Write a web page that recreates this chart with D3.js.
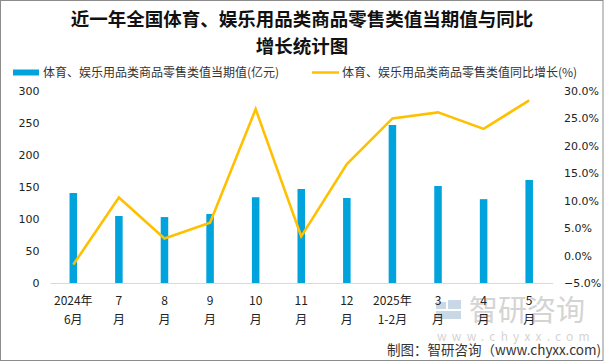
<!DOCTYPE html>
<html>
<head>
<meta charset="utf-8">
<script src="https://cdn.jsdelivr.net/npm/d3@7"></script>
<style>
  html, body { margin: 0; padding: 0; background: #fff; }
  svg { display: block; font-family: "Noto Sans CJK SC", "Noto Sans", sans-serif; }
</style>
</head>
<body>
<svg id="chart" width="605" height="363"></svg>
<script>
const categories = ["2024年6月", "7月", "8月", "9月", "10月", "11月", "12月", "2025年1-2月", "3月", "4月", "5月"];
const labelTop = ["2024年", "7", "8", "9", "10", "11", "12", "2025年", "3", "4", "5"];
const labelBottom = ["6月", "月", "月", "月", "月", "月", "月", "1-2月", "月", "月", "月"];
const values = [140.6, 104.7, 103.0, 107.8, 134.0, 146.9, 132.8, 246.9, 151.6, 131.0, 161.0];
const growth = [-1.65, 10.6, 3.1, 6.0, 26.7, 3.5, 16.7, 25.0, 26.1, 23.1, 28.3];
const leftTicks = [0, 50, 100, 150, 200, 250, 300];
const rightTicks = [-5, 0, 5, 10, 15, 20, 25, 30];

const svg = d3.select("#chart");
const plotLeft = 50.5, plotRight = 552, plotTop = 91, plotBottom = 283;

// frame
svg.append("rect")
    .attr("x", 0.5).attr("y", 0.5)
    .attr("width", 602.5).attr("height", 360)
    .attr("fill", "#fff")
    .attr("stroke", "#8c8c8c");

// title
const title = svg.append("text")
    .attr("text-anchor", "middle")
    .attr("font-weight", "bold")
    .attr("font-size", "18.5px")
    .attr("fill", "#111");
title.append("tspan").attr("x", 302).attr("y", 26).text("近一年全国体育、娱乐用品类商品零售类值当期值与同比");
title.append("tspan").attr("x", 302).attr("y", 53).text("增长统计图");

// legend
svg.append("rect").attr("x", 13).attr("y", 69.5).attr("width", 26).attr("height", 6).attr("fill", "#00a3dc");
svg.append("text").attr("x", 43).attr("y", 77).attr("font-size", "12px").attr("fill", "#333")
    .text("体育、娱乐用品类商品零售类值当期值(亿元)");
svg.append("line").attr("x1", 312).attr("x2", 339).attr("y1", 72.5).attr("y2", 72.5)
    .attr("stroke", "#ffc000").attr("stroke-width", 2.5);
svg.append("text").attr("x", 342).attr("y", 77).attr("font-size", "12px").attr("fill", "#333")
    .text("体育、娱乐用品类商品零售类值同比增长(%)");

// scales
const x = d3.scaleBand().domain(categories).range([plotLeft, plotRight]).padding(0);
const yL = d3.scaleLinear().domain([0, 300]).range([plotBottom, plotTop]);
const yR = d3.scaleLinear().domain([-5, 30]).range([plotBottom, plotTop]);
const barW = x.bandwidth() * 0.165;

// axes
const axL = svg.append("g")
    .attr("transform", `translate(${plotLeft - 11},0)`)
    .call(d3.axisLeft(yL).tickValues(leftTicks).tickSize(0).tickPadding(0));
const axR = svg.append("g")
    .attr("transform", `translate(${plotRight + 12},0)`)
    .call(d3.axisRight(yR).tickValues(rightTicks).tickSize(0).tickPadding(0)
        .tickFormat(d => d3.format(".1f")(d) + "%"));
[axL, axR].forEach(a => {
    a.select(".domain").remove();
    a.selectAll("text").attr("font-size", "11px").attr("fill", "#222")
        .attr("font-family", "\"DejaVu Sans\", sans-serif");
});

// watermark
const wm = svg.append("g").attr("fill", "#d4d4d4");
wm.append("rect").attr("x", 436).attr("y", 302).attr("width", 10).attr("height", 7).attr("fill", "#c9d8e6");
wm.append("rect").attr("x", 448).attr("y", 300).attr("width", 13).attr("height", 9).attr("fill", "#c9d8e6");
wm.append("rect").attr("x", 436).attr("y", 311).attr("width", 25).attr("height", 8).attr("fill", "#c9d8e6");
wm.append("text").attr("x", 469).attr("y", 321).attr("font-size", "29px").text("智研咨询");
wm.append("text").attr("x", 437).attr("y", 341).attr("font-size", "12px")
    .attr("letter-spacing", "5.2px").text("www.chyxx.com");

// baseline
svg.append("line").attr("x1", plotLeft).attr("x2", plotRight + 1)
    .attr("y1", plotBottom + 0.5).attr("y2", plotBottom + 0.5)
    .attr("stroke", "#d9d9d9");

// bars
svg.append("g").selectAll("rect")
    .data(values)
    .join("rect")
    .attr("x", (d, i) => x(categories[i]) + x.bandwidth() / 2 - barW / 2)
    .attr("y", d => yL(d))
    .attr("width", barW)
    .attr("height", d => yL(0) - yL(d))
    .attr("fill", "#00a3dc");

// line
const line = d3.line()
    .x((d, i) => x(categories[i]) + x.bandwidth() / 2)
    .y(d => yR(d));
svg.append("path")
    .datum(growth)
    .attr("d", line)
    .attr("fill", "none")
    .attr("stroke", "#ffc000")
    .attr("stroke-width", 2.6)
    .attr("stroke-linejoin", "miter");

// x labels
const xl = svg.append("g").attr("font-size", "12px").attr("fill", "#222").attr("text-anchor", "middle");
categories.forEach((c, i) => {
    const cx = x(c) + x.bandwidth() / 2;
    xl.append("text").attr("x", cx).attr("y", 305).text(labelTop[i]);
    xl.append("text").attr("x", cx).attr("y", 324).text(labelBottom[i]);
});

// source
svg.append("text").attr("x", 601).attr("y", 355).attr("text-anchor", "end")
    .attr("font-size", "13.5px").attr("fill", "#333")
    .text("制图：智研咨询（www.chyxx.com)");
</script>
</body>
</html>
